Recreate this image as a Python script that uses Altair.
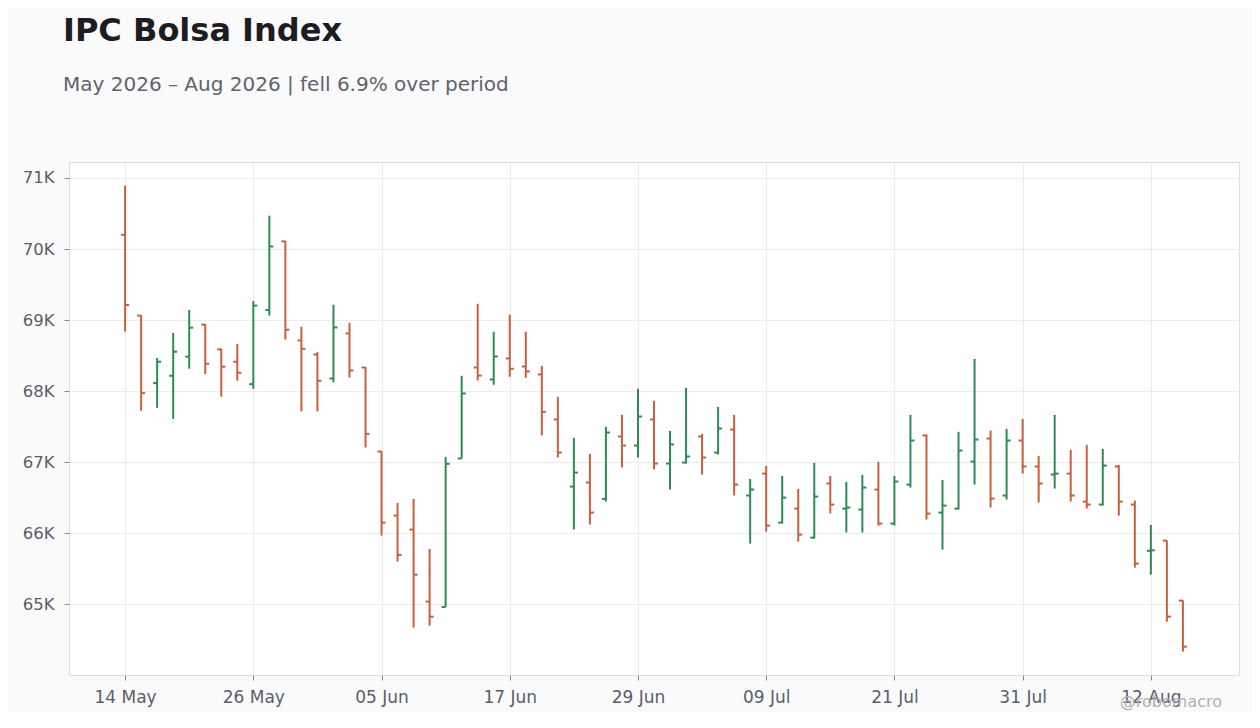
import json
import altair as alt
import pandas as pd

dates = ["14 May", "15 May", "18 May", "19 May", "20 May", "21 May", "22 May", "25 May",
         "26 May", "27 May", "28 May", "29 May", "01 Jun", "02 Jun", "03 Jun", "04 Jun",
         "05 Jun", "08 Jun", "09 Jun", "10 Jun", "11 Jun", "12 Jun", "15 Jun", "16 Jun",
         "17 Jun", "18 Jun", "19 Jun", "22 Jun", "23 Jun", "24 Jun", "25 Jun", "26 Jun",
         "29 Jun", "30 Jun", "01 Jul", "02 Jul", "03 Jul", "06 Jul", "07 Jul", "08 Jul",
         "09 Jul", "10 Jul", "13 Jul", "14 Jul", "15 Jul", "16 Jul", "17 Jul", "20 Jul",
         "21 Jul", "22 Jul", "23 Jul", "24 Jul", "27 Jul", "28 Jul", "29 Jul", "30 Jul",
         "31 Jul", "03 Aug", "04 Aug", "05 Aug", "06 Aug", "07 Aug", "10 Aug", "11 Aug",
         "12 Aug", "13 Aug", "14 Aug"]

open_ = [70201, 69063, 68113, 68217, 68485, 68936, 68588, 68414,
         68099, 69143, 70108, 68714, 68516, 68178, 68812, 68333,
         67150, 66249, 66052, 65038, 64962, 67052, 68333, 68164,
         68460, 68347, 68235, 67601, 66657, 66714, 66484, 67362,
         67235, 67601, 66981, 66995, 67362, 67136, 67460, 66531,
         66840, 66150, 66347, 65939, 66700, 66347, 66333, 66615,
         66136, 66685, 67376, 66291, 66347, 67009, 67333, 66531,
         67305, 66939, 66826, 66840, 66446, 66404, 66939, 66404,
         65752, 65897, 65052]

high = [70892, 69070, 68466, 68819, 69143, 68945, 68598, 68663,
        69270, 70469, 70116, 68906, 68549, 69216, 68962, 68340,
        67155, 66427, 66484, 65779, 67075, 68216, 69230, 68836,
        69075, 68836, 68357, 67920, 67343, 67117, 67498, 67667,
        68033, 67864, 67441, 68047, 67399, 67779, 67667, 66765,
        66948, 66808, 66624, 66991, 66808, 66723, 66822, 67005,
        66808, 67667, 67390, 66751, 67427, 68455, 67446, 67469,
        67610, 67089, 67667, 67174, 67244, 67188, 66962, 66460,
        66117, 65900, 65055]

low = [68837, 67723, 67765, 67610, 68316, 68240, 67921, 68146,
       68033, 69063, 68726, 67714, 67714, 68122, 68192, 67207,
       65967, 65601, 64671, 64700, 64962, 67052, 68150, 68089,
       68202, 68188, 67376, 67066, 66052, 66122, 66446, 66925,
       67066, 66899, 66615, 66981, 66826, 67108, 66531, 65854,
       66023, 66136, 65883, 65925, 66277, 66009, 66009, 66108,
       66108, 66643, 66192, 65770, 66333, 66685, 66362, 66474,
       66840, 66432, 66629, 66446, 66347, 66390, 66249, 65516,
       65418, 64756, 64333]

close = [69213, 67972, 68414, 68555, 68894, 68386, 68344, 68259,
         69204, 70036, 68865, 68596, 68146, 68897, 68291, 67399,
         66150, 65695, 65418, 64826, 66977, 67967, 68219, 68488,
         68315, 68277, 67709, 67136, 66854, 66291, 67418, 67235,
         67643, 66981, 67249, 67080, 67066, 67474, 66685, 66615,
         66108, 66502, 65981, 66516, 66404, 66362, 66643, 66136,
         66728, 67305, 66277, 66390, 67164, 67319, 66488, 67305,
         66939, 66700, 66840, 66531, 66404, 66953, 66446, 65573,
         65760, 64826, 64404]

tick_idx = list(range(0, len(dates), 8))
tick_dates = [dates[k] for k in tick_idx]
y_ticks = [65000, 66000, 67000, 68000, 69000, 70000, 71000]

UP = "#2e8b57"
DOWN = "#c8603c"
FONT = "DejaVu Sans"

df = pd.DataFrame({"i": list(range(len(dates))), "date": dates, "open": open_,
                   "high": high, "low": low, "close": close})
df["dir"] = ["up" if c >= o else "down" for o, c in zip(open_, close)]

label_map = json.dumps(dict(zip([str(k) for k in tick_idx], tick_dates)))

x_scale = alt.Scale(domain=[-3.5, 69.5], nice=False, zero=False)
x_axis = alt.Axis(values=tick_idx, title=None, labelAngle=0,
                  grid=True, gridColor="#ececec", domain=False,
                  tickSize=5, tickColor="#888888", labelPadding=9,
                  labelFontSize=17, labelColor="#5a5e6a", labelFont=FONT,
                  labelExpr=label_map + "[toString(datum.value)]")
y_scale = alt.Scale(domain=[64005, 71225], nice=False, zero=False)
y_axis = alt.Axis(values=y_ticks, title=None, grid=True, gridColor="#ececec",
                  domain=False, tickSize=5, tickColor="#888888", labelPadding=10,
                  labelFontSize=16.5, labelColor="#5a5e6a", labelFont=FONT,
                  labelExpr="(datum.value/1000) + 'K'")
color_enc = alt.Color("dir:N", scale=alt.Scale(domain=["up", "down"], range=[UP, DOWN]),
                      legend=None)

base = alt.Chart(df)

wick = base.mark_rule(strokeWidth=2).encode(
    x=alt.X("i:Q", scale=x_scale, axis=x_axis),
    y=alt.Y("low:Q", scale=y_scale, axis=y_axis),
    y2="high:Q",
    color=color_enc,
)
open_tick = base.mark_rule(strokeWidth=2, xOffset=-4, x2Offset=0).encode(
    x=alt.X("i:Q", scale=x_scale),
    x2="i:Q",
    y=alt.Y("open:Q", scale=y_scale),
    color=color_enc,
)
close_tick = base.mark_rule(strokeWidth=2, xOffset=0, x2Offset=4).encode(
    x=alt.X("i:Q", scale=x_scale),
    x2="i:Q",
    y=alt.Y("close:Q", scale=y_scale),
    color=color_enc,
)

watermark = alt.Chart(pd.DataFrame({"t": ["@robomacro"]})).mark_text(
    align="right", baseline="alphabetic", fontSize=16, font=FONT, color="#b0b0b6"
).encode(text="t:N", x=alt.value(1153), y=alt.value(545))

chart = alt.layer(wick, open_tick, close_tick, watermark).properties(
    width=1170,
    height=513,
    title=alt.TitleParams(
        text="IPC Bolsa Index",
        subtitle="May 2026 \u2013 Aug 2026 | fell 6.9% over period",
        anchor="start", frame="group", dx=-6, offset=66,
        font=FONT, fontSize=32, fontWeight="bold", color="#1c1c21",
        subtitleFont=FONT, subtitleFontSize=20, subtitleColor="#60636e",
        subtitlePadding=27,
    ),
    autosize=alt.AutoSizeParams(type="none"),
    padding={"left": 61, "top": 154, "right": 13, "bottom": 37},
).configure(
    background="#fafafa",
).configure_view(
    fill="#ffffff", stroke="#dddddd", strokeWidth=1,
)

chart.save("out.html", embed_options={"renderer": "svg", "actions": False})
